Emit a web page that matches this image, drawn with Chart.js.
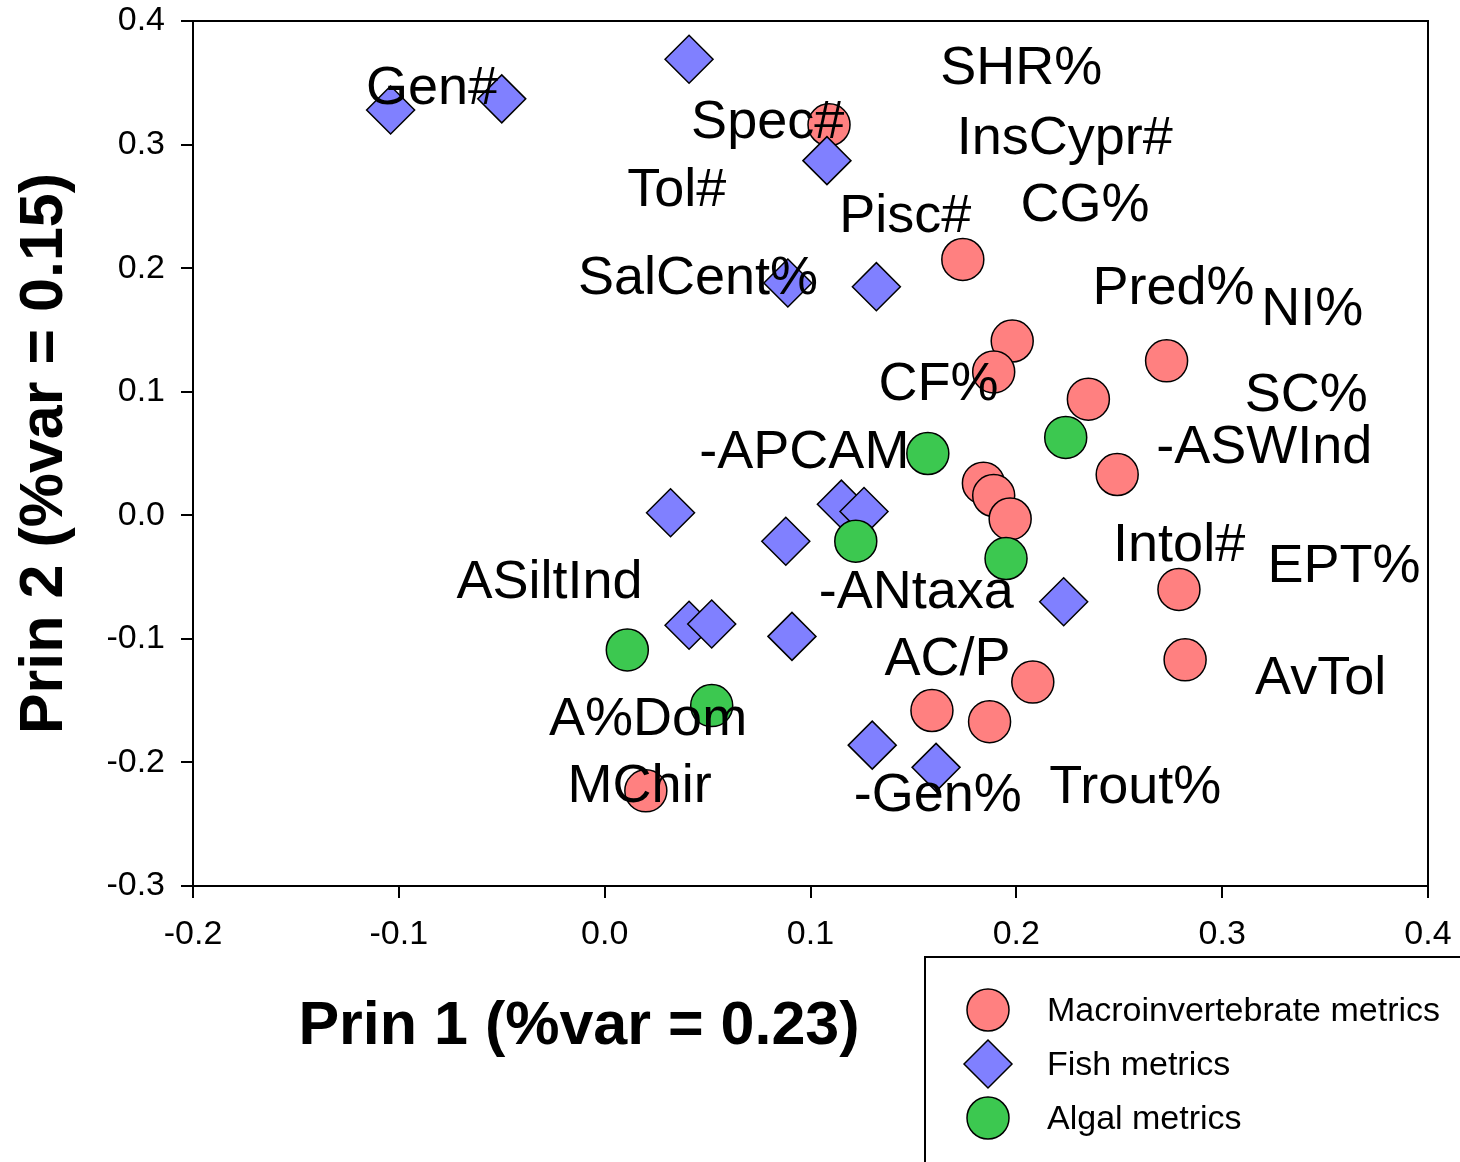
<!DOCTYPE html>
<html>
<head>
<meta charset="utf-8">
<script src="https://cdn.jsdelivr.net/npm/chart.js@4.4.1/dist/chart.umd.min.js"></script>
<style>
  body { margin: 0; background: #fff; }
  #wrap { width: 1460px; height: 1162px; }
</style>
</head>
<body>
<div id="wrap"><canvas id="myChart" width="1460" height="1162"></canvas></div>
<script>
  // Macroinvertebrate metrics (red circles)
  const macroX = [0.109, 0.174, 0.198, 0.189, 0.273, 0.235, 0.249, 0.184,
                  0.189, 0.197, 0.279, 0.282, 0.208, 0.187, 0.159, 0.020];
  const macroY = [0.316, 0.207, 0.141, 0.116, 0.125, 0.094, 0.033, 0.026,
                  0.016, -0.003, -0.060, -0.117, -0.135, -0.167, -0.158, -0.223];

  // Fish metrics (blue diamonds)
  const fishX = [-0.104, -0.050, 0.041, 0.108, 0.089, 0.132, 0.032, 0.088,
                 0.115, 0.126, 0.041, 0.052, 0.091, 0.130, 0.161, 0.223];
  const fishY = [0.328, 0.337, 0.369, 0.287, 0.188, 0.185, 0.002, -0.021,
                 0.009, 0.003, -0.089, -0.088, -0.098, -0.186, -0.204, -0.070];

  // Algal metrics (green circles)
  const algaX = [0.157, 0.122, 0.011, 0.052, 0.224, 0.195];
  const algaY = [0.050, -0.021, -0.109, -0.154, 0.063, -0.035];

  // metric names written in the plot (text start, baseline)
  const labelText = ['Gen#', 'SHR%', 'Spec#', 'InsCypr#', 'Tol#', 'Pisc#', 'CG%', 'SalCent%',
                     'Pred%', 'NI%', 'CF%', 'SC%', '-ASWInd', '-APCAM', 'Intol#', 'EPT%',
                     'ASiltInd', '-ANtaxa', 'AC/P', 'AvTol', 'A%Dom', 'MChir', '-Gen%', 'Trout%'];
  const labelX = [-0.116, 0.163, 0.042, 0.171, 0.011, 0.114, 0.202, -0.013,
                  0.237, 0.319, 0.133, 0.311, 0.268, 0.046, 0.247, 0.322,
                  -0.072, 0.104, 0.136, 0.316, -0.027, -0.018, 0.121, 0.216];
  const labelY = [0.333, 0.349, 0.305, 0.292, 0.250, 0.229, 0.238, 0.179,
                  0.171, 0.154, 0.093, 0.084, 0.042, 0.038, -0.037, -0.054,
                  -0.067, -0.075, -0.129, -0.145, -0.178, -0.232, -0.239, -0.233];

  const xTicks = [-0.2, -0.1, 0.0, 0.1, 0.2, 0.3, 0.4];
  const yTicks = [-0.3, -0.2, -0.1, 0.0, 0.1, 0.2, 0.3, 0.4];

  const seriesNames = ['Macroinvertebrate metrics', 'Fish metrics', 'Algal metrics'];
  const RED = '#FF8080', BLUE = '#8080FF', GREEN = '#3CC850';
  const FONT = '"Liberation Sans", Arial, sans-serif';

  function pts(xs, ys) {
    return xs.map((x, i) => ({ x: x, y: ys[i] }));
  }
  function fmt(v) {
    return Math.abs(v) < 1e-9 ? '0.0' : v.toFixed(1);
  }

  const extras = {
    id: 'extras',
    afterDatasetsDraw(chart) {
      const ctx = chart.ctx, a = chart.chartArea;
      const xs = chart.scales.x, ys = chart.scales.y;
      ctx.save();
      // frame top + right
      ctx.strokeStyle = '#000';
      ctx.lineWidth = 2;
      ctx.beginPath();
      ctx.moveTo(a.left, a.top);
      ctx.lineTo(a.right + 1, a.top);
      ctx.moveTo(a.right, a.top);
      ctx.lineTo(a.right, a.bottom);
      ctx.stroke();

      ctx.fillStyle = '#000';
      ctx.font = '54px ' + FONT;
      ctx.textAlign = 'left';
      ctx.textBaseline = 'alphabetic';
      labelText.forEach((t, i) => {
        ctx.fillText(t, xs.getPixelForValue(labelX[i]), ys.getPixelForValue(labelY[i]));
      });
      ctx.restore();
    },
    afterDraw(chart) {
      const ctx = chart.ctx, a = chart.chartArea;
      ctx.save();
      ctx.fillStyle = '#000';
      ctx.font = 'bold 61px ' + FONT;
      ctx.textAlign = 'center';
      ctx.textBaseline = 'alphabetic';
      ctx.fillText('Prin 1 (%var = 0.23)', 579, 1044);

      ctx.translate(62, (a.top + a.bottom) / 2);
      ctx.rotate(-Math.PI / 2);
      ctx.fillText('Prin 2 (%var = 0.15)', 0, 0);
      ctx.restore();

      // legend box
      ctx.save();
      ctx.strokeStyle = '#000';
      ctx.lineWidth = 2;
      ctx.strokeRect(925, 957, 700, 400);
      const cols = [RED, BLUE, GREEN];
      const rowY = [1010, 1064, 1118];
      ctx.lineWidth = 1.5;
      seriesNames.forEach((n, i) => {
        const cx = 988, cy = rowY[i];
        ctx.beginPath();
        if (i === 1) {
          ctx.moveTo(cx - 24, cy);
          ctx.lineTo(cx, cy - 24);
          ctx.lineTo(cx + 24, cy);
          ctx.lineTo(cx, cy + 24);
          ctx.closePath();
        } else {
          ctx.arc(cx, cy, 21, 0, Math.PI * 2);
        }
        ctx.fillStyle = cols[i];
        ctx.fill();
        ctx.stroke();
        ctx.fillStyle = '#000';
        ctx.font = '34px ' + FONT;
        ctx.textAlign = 'left';
        ctx.textBaseline = 'middle';
        ctx.fillText(n, 1047, cy + 2);
      });
      ctx.restore();
    }
  };

  const config = {
    type: 'scatter',
    data: {
      datasets: [
        { label: seriesNames[0], data: pts(macroX, macroY), order: 3,
          pointStyle: 'circle', pointRadius: 21, backgroundColor: RED,
          borderColor: '#000', borderWidth: 1.5 },
        { label: seriesNames[1], data: pts(fishX, fishY), order: 2,
          pointStyle: 'rectRot', pointRadius: 24, backgroundColor: BLUE,
          borderColor: '#000', borderWidth: 1.5 },
        { label: seriesNames[2], data: pts(algaX, algaY), order: 1,
          pointStyle: 'circle', pointRadius: 21, backgroundColor: GREEN,
          borderColor: '#000', borderWidth: 1.5 }
      ]
    },
    options: {
      responsive: false,
      animation: false,
      events: [],
      layout: { autoPadding: false, padding: { left: 0, top: 21, right: 32, bottom: 0 } },
      plugins: { legend: { display: false }, tooltip: { enabled: false } },
      scales: {
        x: {
          type: 'linear', min: -0.2, max: 0.4,
          afterBuildTicks: s => { s.ticks = xTicks.map(v => ({ value: v })); },
          afterFit: s => { s.height = 276; s.paddingLeft = 0; s.paddingRight = 0; },
          ticks: { callback: fmt, color: '#000', padding: 16,
                   font: { family: FONT, size: 34 }, maxRotation: 0 },
          grid: { drawOnChartArea: false, drawTicks: true, tickLength: 12,
                  color: '#000', lineWidth: 2 },
          border: { display: true, color: '#000', width: 2 }
        },
        y: {
          type: 'linear', min: -0.3, max: 0.4,
          afterBuildTicks: s => { s.ticks = yTicks.map(v => ({ value: v })); },
          afterFit: s => { s.width = 193; s.paddingTop = 0; s.paddingBottom = 0; },
          ticks: { callback: fmt, color: '#000', padding: 16,
                   font: { family: FONT, size: 34 } },
          grid: { drawOnChartArea: false, drawTicks: true, tickLength: 12,
                  color: '#000', lineWidth: 2 },
          border: { display: true, color: '#000', width: 2 }
        }
      }
    },
    plugins: [extras]
  };

  const myChart = new Chart(document.getElementById('myChart'), config);
</script>
</body>
</html>
